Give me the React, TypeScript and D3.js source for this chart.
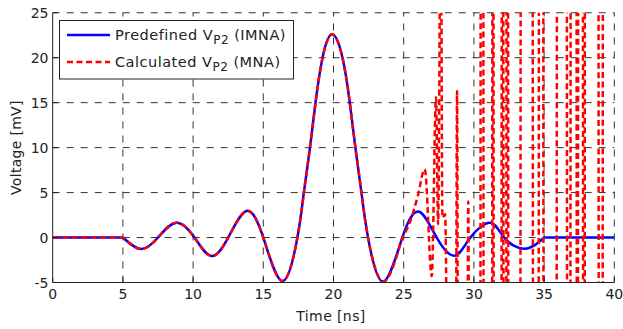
import React from "react";
import * as d3 from "d3";

// Predefined V_P2 (IMNA) — key points (time ns, voltage mV)
const blueTimes = [0, 5, 6.3, 7.5, 8.8, 10.1, 11.3, 12.5, 13.8, 15.0, 16.36, 17.43, 17.88, 18.3, 18.72, 19.22, 19.9, 20.64, 21.16, 21.56, 21.99, 22.46, 23.53, 24.9, 26.1, 27.35, 28.63, 29.75, 31.17, 32.15, 33.62, 35.0, 40];
const blueValues = [0, 0, -1.28, 0, 1.65, 0, -2.06, 0, 2.95, 0, -4.84, 0, 4.9, 9.7, 15, 20, 22.6, 20, 15, 10, 5, 0, -4.9, 0, 2.87, 0, -2.02, 0, 1.65, 0, -1.25, 0, 0];

// Calculated V_P2 (MNA) — divergent part after ~25 ns (shares the blue curve before)
const redTimes = [24.9, 25.5, 26.0, 26.5, 27.0, 27.3, 27.45, 27.64, 27.76, 27.95, 28.15, 28.7, 28.8, 28.88, 29.52, 29.6, 29.68, 30.45, 30.5, 30.66, 30.7, 31.29, 31.33, 31.38, 31.42, 31.96, 32.0, 32.08, 32.12, 32.3, 32.34, 32.42, 32.46, 33.3, 33.35, 34.17, 34.22, 34.6, 34.65, 34.92, 34.97, 35.88, 35.93, 36.6, 36.65, 36.86, 36.91, 37.3, 37.34, 37.4, 37.44, 37.75, 37.79, 37.88, 37.92, 38.86, 38.9, 39.16, 39.2, 40];
const redValues = [0, 1.95, 4.6, 7.6, -4.3, 15.6, 1.5, 38, 2.2, 2.6, -20, -22, 16.3, -22, -20, 4.0, -24, -30, 60, 55, -30, -28, 58, 52, -30, -26, 62, 50, -28, -30, 56, 54, -30, -27, 60, 58, -30, -26, 55, 62, -28, -30, 57, 60, -30, -27, 58, 54, -29, -30, 61, 56, -28, -30, 59, 60, -30, -26, 55, 57];
const redSplitTime = 24.9;

const xTicks = [0, 5, 10, 15, 20, 25, 30, 35, 40];
const yTicks = [-5, 0, 5, 10, 15, 20, 25];

const W = 623;
const H = 329;
const FONT = "'DejaVu Sans', Verdana, sans-serif";

export default function App() {
  const x = d3.scaleLinear().domain([0, 40]).range([52.7, 614.3]);
  const y = d3.scaleLinear().domain([-5, 25]).range([282.5, 12.75]);

  const bluePts: [number, number][] = blueTimes.map((t, i) => [t, blueValues[i]]);
  const redPts: [number, number][] = redTimes.map((t, i) => [t, redValues[i]]);

  const lineNat = d3
    .line<[number, number]>()
    .x((d) => x(d[0]))
    .y((d) => y(d[1]))
    .curve(d3.curveNatural);
  const lineMono = d3
    .line<[number, number]>()
    .x((d) => x(d[0]))
    .y((d) => y(d[1]))
    .curve(d3.curveMonotoneX);

  const osc = bluePts.filter((p) => p[0] >= 5 && p[0] <= 35);
  const bluePath =
    `M${x(0)},${y(0)}` +
    (lineNat(osc) || "").replace(/^M/, "L") +
    `L${x(40)},${y(0)}`;

  const shared = bluePts.filter((p) => p[0] >= 5 && p[0] <= redSplitTime);
  const redPath =
    `M${x(0)},${y(0)}` +
    (lineNat(shared) || "").replace(/^M/, "L") +
    (lineMono(redPts) || "").replace(/^M/, "L");

  const [x0, x1] = x.range();
  const [yb, yt] = y.range();

  return (
    <svg
      width={W}
      height={H}
      style={{ position: "fixed", left: 0, top: 0, background: "#fff" }}
      fontFamily={FONT}
    >
      <defs>
        <clipPath id="plotClip">
          <rect x={x0} y={yt} width={x1 - x0} height={yb - yt} />
        </clipPath>
      </defs>
      <rect x={0} y={0} width={W} height={H} fill="#fff" />

      {/* grid */}
      <g stroke="#333" strokeWidth={1} strokeDasharray="7,7" fill="none">
        {xTicks
          .filter((t) => t > 0)
          .map((t) => (
            <line key={"gx" + t} x1={x(t)} x2={x(t)} y1={yb} y2={yt} />
          ))}
        {yTicks
          .filter((v) => v > -5)
          .map((v) => (
            <line key={"gy" + v} x1={x0} x2={x1} y1={y(v)} y2={y(v)} />
          ))}
      </g>

      {/* series */}
      <g clipPath="url(#plotClip)" fill="none">
        <path d={bluePath} stroke="#0000ff" strokeWidth={2.5} strokeLinejoin="round" />
        <path
          d={redPath}
          stroke="#ff0000"
          strokeWidth={2.5}
          strokeDasharray="6,3.5"
          strokeLinejoin="round"
        />
      </g>

      {/* axes */}
      <g stroke="#222" strokeWidth={1}>
        <line x1={x0} x2={x0} y1={yt} y2={yb} />
        <line x1={x0} x2={x1} y1={yb} y2={yb} />
        {xTicks.map((t) => (
          <line key={"tx" + t} x1={x(t)} x2={x(t)} y1={yb} y2={yb - 5} />
        ))}
        {yTicks.map((v) => (
          <line key={"ty" + v} x1={x0} x2={x0 + 5} y1={y(v)} y2={y(v)} />
        ))}
      </g>

      {/* tick labels */}
      <g fill="#222" fontSize={14}>
        {xTicks.map((t) => (
          <text key={"lx" + t} x={x(t)} y={299} textAnchor="middle">
            {t}
          </text>
        ))}
        {yTicks.map((v) => (
          <text key={"ly" + v} x={48.5} y={y(v)} dy="0.36em" textAnchor="end">
            {v}
          </text>
        ))}
      </g>

      {/* axis titles */}
      <text x={331} y={321} fontSize={14} fill="#222" textAnchor="middle" letterSpacing={0.4}>
        Time [ns]
      </text>
      <text
        transform={`translate(21,${(yt + yb) / 2}) rotate(-90)`}
        fontSize={14}
        fill="#222"
        textAnchor="middle"
        letterSpacing={0.3}
      >
        Voltage [mV]
      </text>

      {/* legend */}
      <g>
        <rect x={59.5} y={20.5} width={234} height={58.5} fill="#fff" stroke="#222" strokeWidth={1} />
        <line x1={67} x2={110} y1={35} y2={35} stroke="#0000ff" strokeWidth={2.5} />
        <line x1={67} x2={110} y1={62} y2={62} stroke="#ff0000" strokeWidth={2.5} strokeDasharray="6,3.5" />
        <text x={115} y={39.5} fontSize={14.5} fill="#222" letterSpacing={0.5}>
          Predefined V
          <tspan fontSize={12} dy={4.5}>P2</tspan>
          <tspan dy={-4.5}> (IMNA)</tspan>
        </text>
        <text x={115} y={66.5} fontSize={14.5} fill="#222" letterSpacing={0.5}>
          Calculated V
          <tspan fontSize={12} dy={4.5}>P2</tspan>
          <tspan dy={-4.5}> (MNA)</tspan>
        </text>
      </g>
    </svg>
  );
}
